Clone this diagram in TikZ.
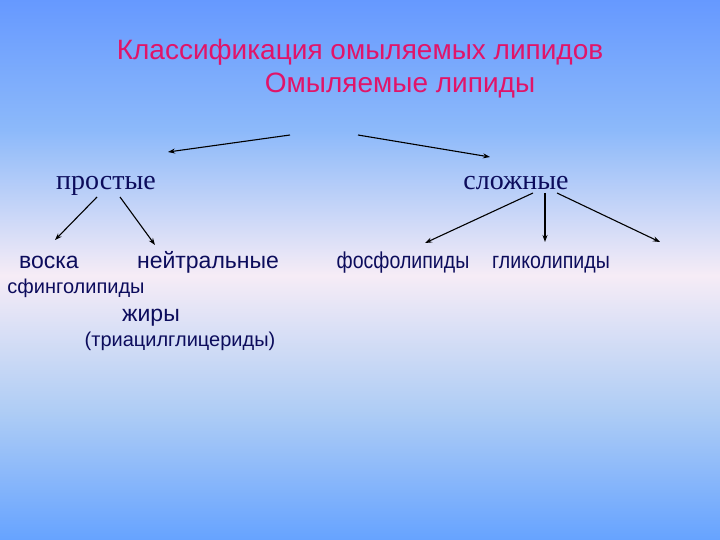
\documentclass[tikz,border=0pt]{standalone}
\usepackage{fontspec}
\setmainfont{Liberation Serif}
\setsansfont{Liberation Sans}
\usetikzlibrary{arrows.meta}
\definecolor{bgtop}{RGB}{102,153,255}
\definecolor{bgupper}{RGB}{140,185,250}
\definecolor{bgmid}{RGB}{246,236,246}
\definecolor{bglower}{RGB}{175,205,245}
\definecolor{bgbot}{RGB}{102,163,255}
\definecolor{titlered}{RGB}{225,20,105}
\definecolor{navy}{RGB}{12,12,92}
\pgfdeclareverticalshading{slidebg}{100bp}{color(0bp)=(bgbot); color(25bp)=(bgbot); color(37bp)=(bglower); color(49.5bp)=(bgmid); color(63bp)=(bgupper); color(75bp)=(bgtop); color(100bp)=(bgtop)}
\tikzset{
  every node/.style={anchor=base, inner sep=0pt},
  head/.style={font=\sffamily\fontsize{28}{30}\selectfont, text=titlered},
  group/.style={font=\rmfamily\fontsize{28}{30}\selectfont, text=navy},
  leaf/.style={font=\sffamily\fontsize{23}{25}\selectfont, text=navy},
  small/.style={font=\sffamily\fontsize{20}{22}\selectfont, text=navy},
  narrow/.style={font=\sffamily\fontsize{23}{25}\selectfont, text=navy, xscale=0.85},
  arr/.style={-{Stealth[length=7pt,width=5pt]}, line width=1.1pt, black}
}

\begin{document}
\begin{tikzpicture}[x=1pt,y=-1pt]
% background
\shade[shading=slidebg] (0,0) rectangle (720,540);
\useasboundingbox (0,0) rectangle (720,540);

\node[head] (title) at (360,60) {Классификация омыляемых липидов};
\node[head] (omyl) at (400,93) {Омыляемые липиды};

\node[group] (prost) at (106,190) {простые};
\node[group] (slozh) at (516,190) {сложные};

\node[leaf] (voska) at (49,268) {воска};
\node[leaf] (neitr) at (208,268) {нейтральные};
\node[small] (sfing) at (76,293) {сфинголипиды};
\node[leaf] (zhiry) at (151,321) {жиры};
\node[small] (triac) at (180,346) {(триацилглицериды)};
\node[narrow] (fosf) at (403,268) {фосфолипиды};
\node[narrow] (glik) at (551,268) {гликолипиды};

\coordinate (o1) at (290,135);
\coordinate (o2) at (358,135);
\coordinate (p1) at (168,152);
\coordinate (s1) at (490,157);
\coordinate (pa) at (97,197);
\coordinate (pb) at (120,197);
\coordinate (va) at (55,240);
\coordinate (na) at (155,245);
\coordinate (sa) at (533,193);
\coordinate (sb) at (545,193);
\coordinate (sc) at (557,193);
\coordinate (fa) at (425,243);
\coordinate (ga) at (545,242);
\coordinate (xa) at (660,242);

\draw[arr] (o1) -- (p1);
\draw[arr] (o2) -- (s1);
\draw[arr] (pa) -- (va);
\draw[arr] (pb) -- (na);
\draw[arr] (sa) -- (fa);
\draw[arr] (sb) -- (ga);
\draw[arr] (sc) -- (xa);
\end{tikzpicture}
\end{document}
